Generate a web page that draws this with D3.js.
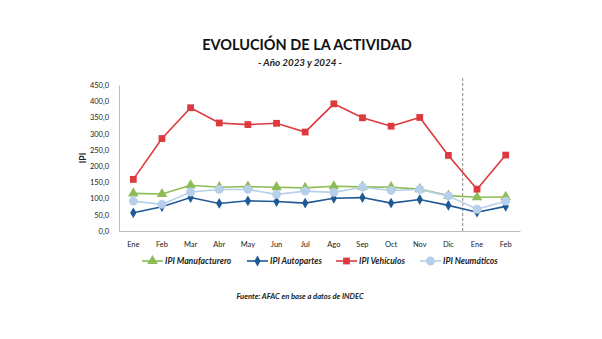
<!DOCTYPE html>
<html>
<head>
<meta charset="utf-8">
<script src="https://cdn.jsdelivr.net/npm/d3@7"></script>
<style>
  html, body { margin: 0; padding: 0; background: #fff; }
  svg { display: block; font-family: Lato, "Open Sans", sans-serif; }
</style>
</head>
<body>
<svg id="chart"></svg>
<script>
const width = 602;
const height = 339;

// months, 2023 + first two of 2024
const months = ["Ene", "Feb", "Mar", "Abr", "May", "Jun", "Jul", "Ago", "Sep", "Oct", "Nov", "Dic", "Ene", "Feb"];
const yTicks = [0, 50, 100, 150, 200, 250, 300, 350, 400, 450];

const manufacturero = [116, 114, 141, 135, 137, 135, 133, 138, 136, 135, 129, 109, 104, 105];
const autopartes    = [56, 75, 103, 85, 93, 91, 86, 101, 103, 86, 97, 79, 58, 76];
const vehiculos     = [159, 285, 380, 333, 328, 332, 305, 392, 349, 323, 350, 233, 129, 234];
const neumaticos    = [92, 82, 120, 128, 128, 113, 123, 119, 135, 125, 128, 108, 67, 92];

const series = [
  { name: "IPI Manufacturero", values: manufacturero, color: "#8dbb55", symbol: d3.symbolTriangle, size: 48 },
  { name: "IPI Autopartes", values: autopartes, color: "#1f5a96", symbol: d3.symbolDiamond, size: 34 },
  { name: "IPI Vehículos", values: vehiculos, color: "#dc3a3e", symbol: d3.symbolSquare, size: 46 },
  { name: "IPI Neumáticos", values: neumaticos, color: "#b7cfea", symbol: d3.symbolCircle, size: 62 }
];

const margin = { left: 119, right: 82, top: 85, bottom: 108 };

const svg = d3.select("#chart").attr("width", width).attr("height", height);

const x = d3.scaleBand()
  .domain(d3.range(months.length))
  .range([margin.left, width - margin.right]);

const y = d3.scaleLinear()
  .domain([0, 450])
  .range([height - margin.bottom, margin.top]);

// titles
svg.append("text")
  .attr("x", 307).attr("y", 50)
  .attr("text-anchor", "middle")
  .attr("font-size", 14.5).attr("font-weight", "bold")
  .attr("fill", "#111")
  .text("EVOLUCIÓN DE LA ACTIVIDAD");

svg.append("text")
  .attr("x", 300).attr("y", 66)
  .attr("text-anchor", "middle")
  .attr("font-size", 9.8).attr("font-weight", "bold").attr("font-style", "italic")
  .attr("fill", "#222")
  .text("- Año 2023 y 2024 -");

// y axis
const yAxis = svg.append("g")
  .attr("transform", `translate(${margin.left},0)`)
  .call(d3.axisLeft(y).tickValues(yTicks).tickSize(0).tickPadding(10)
    .tickFormat(d => d3.format(".1f")(d).replace(".", ",")));
yAxis.select(".domain").attr("stroke", "#bdbdbd");
yAxis.selectAll("text").attr("font-size", 7.5).attr("fill", "#222").attr("font-family", "Lato, sans-serif");

svg.append("text")
  .attr("transform", `translate(86,${y(225)}) rotate(-90)`)
  .attr("text-anchor", "middle")
  .attr("font-size", 8.5).attr("font-weight", "bold")
  .attr("fill", "#222")
  .text("IPI");

// x axis
const xAxis = svg.append("g")
  .attr("transform", `translate(0,${y(0)})`)
  .call(d3.axisBottom(x).tickSize(0).tickPadding(11).tickFormat(i => months[i]));
xAxis.select(".domain").attr("stroke", "#bdbdbd");
xAxis.selectAll("text").attr("font-size", 7.5).attr("fill", "#222").attr("font-family", "Lato, sans-serif");

// separator between 2023 and 2024
svg.append("line")
  .attr("x1", x(12)).attr("x2", x(12))
  .attr("y1", margin.top - 7).attr("y2", y(0))
  .attr("stroke", "#888")
  .attr("stroke-width", 1)
  .attr("stroke-dasharray", "3,2");

const cx = i => x(i) + x.bandwidth() / 2;

const line = d3.line()
  .x((d, i) => cx(i))
  .y(d => y(d));

series.forEach(s => {
  const g = svg.append("g");
  g.append("path")
    .datum(s.values)
    .attr("fill", "none")
    .attr("stroke", s.color)
    .attr("stroke-width", 1.6)
    .attr("d", line);

  g.selectAll("path.marker")
    .data(s.values)
    .enter()
    .append("path")
    .attr("class", "marker")
    .attr("d", d3.symbol().type(s.symbol).size(s.size))
    .attr("transform", (d, i) => `translate(${cx(i)},${y(d)})`)
    .attr("fill", s.color);
});

// legend
const legendX = [142, 247, 336, 420];
const legendY = 261;
const legend = svg.append("g");
series.forEach((s, i) => {
  const lg = legend.append("g").attr("transform", `translate(${legendX[i]},${legendY})`);
  lg.append("line")
    .attr("x1", 0).attr("x2", 21)
    .attr("stroke", s.color).attr("stroke-width", 1.6);
  lg.append("path")
    .attr("d", d3.symbol().type(s.symbol).size(s.size))
    .attr("transform", "translate(10.5,0)")
    .attr("fill", s.color);
  lg.append("text")
    .attr("x", 23).attr("y", 3)
    .attr("font-size", 8.6).attr("font-weight", "bold").attr("font-style", "italic")
    .attr("fill", "#222")
    .text(s.name);
});

// source note
svg.append("text")
  .attr("x", 300).attr("y", 299)
  .attr("text-anchor", "middle")
  .attr("font-size", 7.6).attr("font-weight", "bold").attr("font-style", "italic")
  .attr("fill", "#222")
  .text("Fuente: AFAC en base a datos de INDEC");
</script>
</body>
</html>
